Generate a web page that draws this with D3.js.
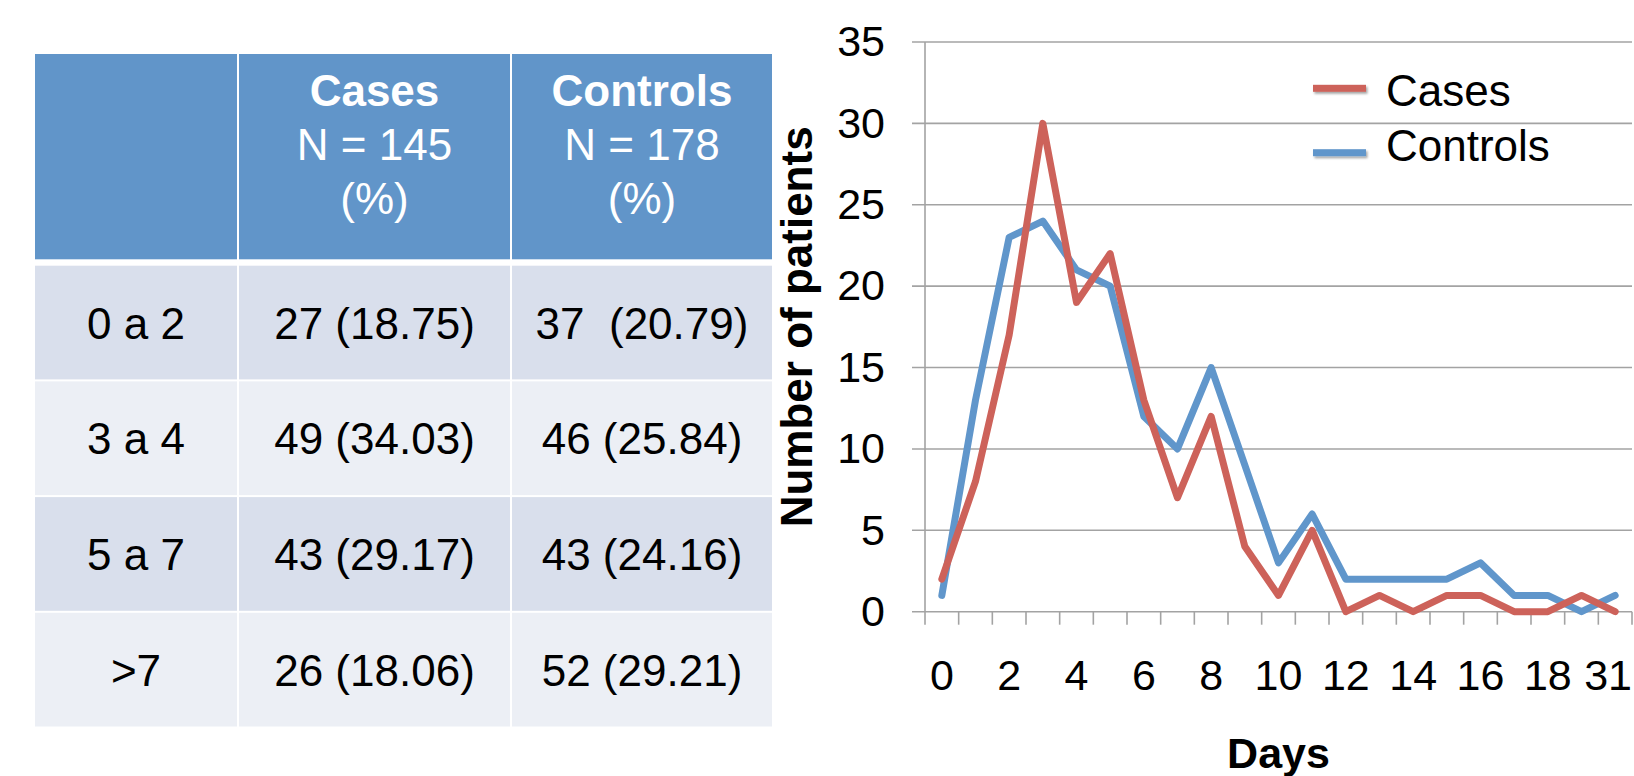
<!DOCTYPE html>
<html>
<head>
<meta charset="utf-8">
<script src="https://cdn.jsdelivr.net/npm/d3@7"></script>
<style>
  html, body { margin: 0; padding: 0; background: #fff; }
  svg { display: block; font-family: "Liberation Sans", Arial, Helvetica, sans-serif; }
</style>
</head>
<body>
<svg id="chart" width="1634" height="776"></svg>
<script>
// ---------- data ----------
const days = ["0","1","2","3","4","5","6","7","8","9","10","11","12","13","14","15","16","17","18","19","31"];
const cases = [2,8,17,30,19,22,13,7,12,4,1,5,0,1,0,1,1,0,0,1,0];
const controls = [1,13,23,24,21,20,12,10,15,9,3,6,2,2,2,2,3,1,1,0,1];
const yTicks = [0,5,10,15,20,25,30,35];
const seriesNames = ["Cases","Controls"];

const headerTitles = ["", "Cases", "Controls"];
const headerN = ["", "N = 145", "N = 178"];
const headerPct = ["", "(%)", "(%)"];
const rowLabels = ["0 a 2", "3 a 4", "5 a 7", ">7"];
const casesCol = ["27 (18.75)", "49 (34.03)", "43 (29.17)", "26 (18.06)"];
const controlsCol = ["37  (20.79)", "46 (25.84)", "43 (24.16)", "52 (29.21)"];

// ---------- styles ----------
const RED = "#CD625A", BLUE = "#6096CB";
const HEAD = "#6195C9", ROW_A = "#D9DFEC", ROW_B = "#ECEFF5";
const GRID = "#A3A3A3";

const svg = d3.select("#chart");
const defs = svg.append("defs");
const f = defs.append("filter").attr("id","sh").attr("filterUnits","userSpaceOnUse")
  .attr("x",1290).attr("y",60).attr("width",100).attr("height",120);
f.append("feDropShadow").attr("dx",1.5).attr("dy",2).attr("stdDeviation",1.3).attr("flood-color","#000").attr("flood-opacity",0.35);

// ---------- table ----------
const colX = [35, 239, 512];
const colW = [202, 271, 260];
const headTop = 54, headH = 205.3;
const rowTop = 265.7, rowPitch = 115.7, rowH = 113.7;
const tbl = svg.append("g");

tbl.selectAll("rect.h").data(headerTitles).join("rect")
  .attr("x", (d,i) => colX[i]).attr("y", headTop)
  .attr("width", (d,i) => colW[i]).attr("height", headH).attr("fill", HEAD);

headerTitles.forEach((t,i) => {
  const cx = colX[i] + colW[i]/2;
  tbl.append("text").attr("x", cx).attr("y", headTop + 52).attr("text-anchor","middle")
    .attr("font-size", 44).attr("font-weight","bold").attr("fill","#fff").text(t);
  tbl.append("text").attr("x", cx).attr("y", headTop + 106).attr("text-anchor","middle")
    .attr("font-size", 44).attr("fill","#fff").text(headerN[i]);
  tbl.append("text").attr("x", cx).attr("y", headTop + 160).attr("text-anchor","middle")
    .attr("font-size", 44).attr("fill","#fff").text(headerPct[i]);
});

const rows = rowLabels.map((r,i) => [r, casesCol[i], controlsCol[i]]);
rows.forEach((cells, r) => {
  const top = rowTop + r*rowPitch;
  cells.forEach((c, i) => {
    tbl.append("rect").attr("x", colX[i]).attr("y", top).attr("width", colW[i]).attr("height", rowH)
      .attr("fill", r % 2 === 0 ? ROW_A : ROW_B);
    tbl.append("text").attr("x", colX[i] + colW[i]/2).attr("y", top + rowH/2 + 16)
      .attr("text-anchor","middle").attr("font-size", 44).attr("fill","#000")
      .style("white-space","pre").text(c);
  });
});

// ---------- line chart ----------
const x = d3.scaleBand().domain(days).range([925, 1632]).padding(0);
const y = d3.scaleLinear().domain([0, 35]).range([611.7, 42]);
const cxp = d => x(d) + x.bandwidth()/2;

const g = svg.append("g");
g.selectAll("line.grid").data(yTicks).join("line")
  .attr("x1", 912).attr("x2", 1632).attr("y1", d => y(d)).attr("y2", d => y(d))
  .attr("stroke", GRID).attr("stroke-width", 1.6);
g.append("line").attr("x1", 925).attr("x2", 925).attr("y1", y(35)).attr("y2", y(0) + 13)
  .attr("stroke", GRID).attr("stroke-width", 1.6);
const bounds = days.map(d => x(d)).concat([x(days[days.length-1]) + x.bandwidth()]);
g.selectAll("line.xt").data(bounds.slice(1)).join("line")
  .attr("x1", d => d).attr("x2", d => d).attr("y1", y(0)).attr("y2", y(0) + 13)
  .attr("stroke", GRID).attr("stroke-width", 1.6);

const yAxis = d3.axisLeft(y).tickValues(yTicks).tickSize(0).tickPadding(40);
const ya = g.append("g").attr("transform","translate(925,0)").call(yAxis);
ya.select(".domain").remove();
ya.selectAll("text").attr("font-size", 43).attr("fill","#000").attr("font-family","Liberation Sans, Arial, sans-serif");

const xAxis = d3.axisBottom(x).tickValues(days.filter((d,i) => i % 2 === 0)).tickSize(0).tickPadding(48);
const xa = g.append("g").attr("transform", `translate(0,${y(0)})`).call(xAxis);
xa.select(".domain").remove();
xa.selectAll("text").attr("font-size", 43).attr("fill","#000").attr("font-family","Liberation Sans, Arial, sans-serif");
xa.selectAll("text").filter(d => d === days[days.length-1]).attr("text-anchor","end")
  .attr("x", 1632 - cxp(days[days.length-1]));

const line = d3.line().x((d,i) => cxp(days[i])).y(d => y(d));
[[controls, BLUE], [cases, RED]].forEach(([vals, col]) => {
  g.append("path").datum(vals).attr("d", line).attr("fill","none")
    .attr("stroke", col).attr("stroke-width", 7)
    .attr("stroke-linejoin","round").attr("stroke-linecap","round");
});

g.append("text").attr("x", (925+1632)/2).attr("y", 768).attr("text-anchor","middle")
  .attr("font-size", 43).attr("font-weight","bold").text("Days");
g.append("text").attr("transform", `translate(812,${(y(0)+y(35))/2}) rotate(-90)`)
  .attr("text-anchor","middle").attr("font-size", 44).attr("font-weight","bold").text("Number of patients");

const legLineY = [88.3, 152.7];
const legTextY = [105.5, 160.5];
const leg = g.selectAll("g.leg").data(seriesNames).join("g");
leg.append("rect").attr("x", 1313).attr("width", 53).attr("y", (d,i) => legLineY[i] - 3.5).attr("height", 7)
  .attr("fill", (d,i) => i === 0 ? RED : BLUE).attr("filter","url(#sh)");
leg.append("text").attr("x", 1386).attr("y", (d,i) => legTextY[i]).attr("font-size", 44).attr("fill","#000").text(d => d);
</script>
</body>
</html>
